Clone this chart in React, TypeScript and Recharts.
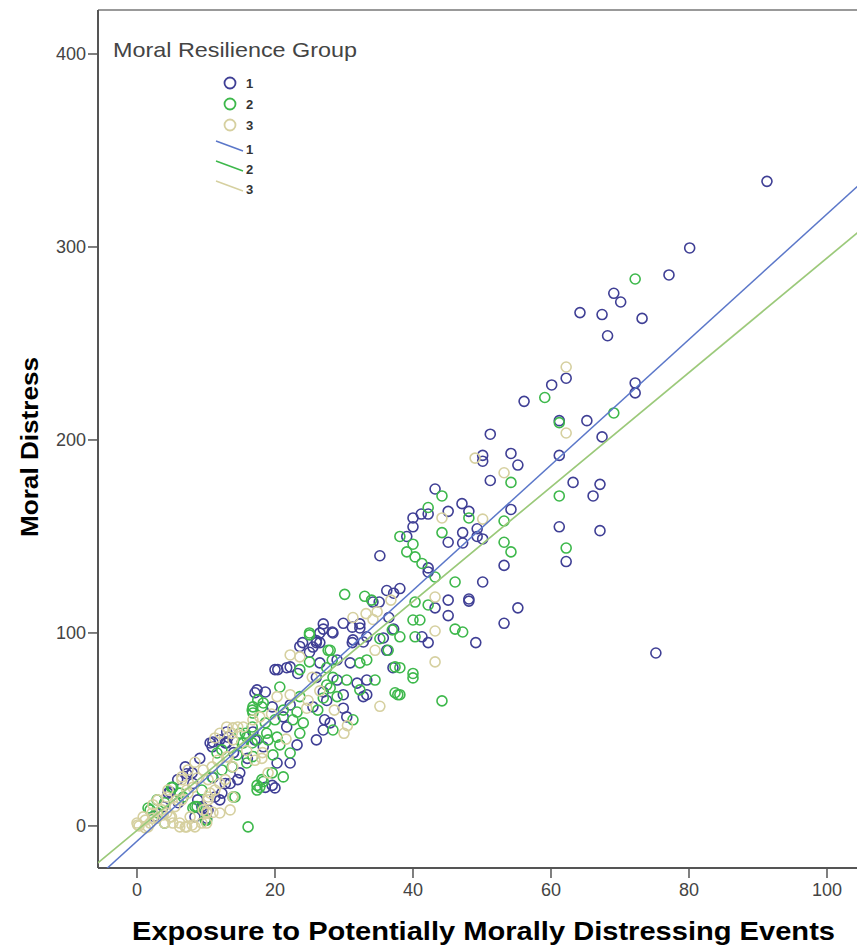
import React from "react";
import { ScatterChart, Scatter, XAxis, YAxis, ReferenceLine } from "recharts";

// Moral Resilience Group 1 (blue), 2 (green), 3 (tan): [exposure, distress]
const group1: [number, number][] = [
  [91.3, 334], [80.1, 299.5], [77.1, 285.5], [69.1, 276], [70.1, 271.5], [67.4, 265], [64.2, 266], [73.2, 263],
  [68.2, 254], [72.2, 229.5], [72.2, 224.4], [67.4, 201.6], [62.2, 232], [60.1, 228.5], [56.1, 220], [61.2, 210],
  [65.2, 210], [54.2, 193], [55.2, 187], [61.2, 192], [63.2, 178], [67.1, 177], [66.1, 171], [54.2, 164],
  [61.2, 155], [67.1, 153], [53.2, 135], [62.2, 137], [55.2, 113], [53.2, 105], [75.2, 89.6],
  [51.2, 203], [50.1, 192], [50.1, 189], [51.2, 179], [43.2, 174.6], [47.1, 167], [48.1, 163], [42.2, 161.6],
  [40, 159.6], [41.2, 161.6], [45.1, 163], [40, 155], [39.1, 150], [45.1, 147], [47.2, 152], [47.2, 146.6],
  [49.3, 154], [49.3, 150], [50.1, 148.7], [35.2, 140], [42.2, 133.7], [42.2, 131.6], [50.1, 126.4], [35.1, 116],
  [36.2, 122], [38.1, 123], [37.2, 120.6], [45.1, 117], [48.1, 117.6], [48.1, 116.5], [43.2, 113], [45.1, 109],
  [49.1, 95], [42.2, 95], [41.3, 98], [37.2, 102], [36.2, 91], [37.1, 82],
  [29.9, 105], [32.3, 104.7], [27, 104.7], [27, 102], [28.4, 100], [26, 95], [31.2, 95], [33.3, 98],
  [34.2, 116], [31.2, 103], [32.3, 102.6], [26.5, 100], [28.3, 100.5], [26.5, 95], [24, 95], [25.5, 92.7],
  [31.3, 96.4], [32.8, 95.3], [35.7, 97.4], [30.9, 84.5], [29, 86], [20, 81], [21.7, 82], [26, 77],
  [29, 75.6], [31.9, 74], [33.3, 75.6], [33.3, 68], [29.9, 68], [25.5, 61.7], [29.9, 61], [32.8, 67],
  [28, 53.4], [30.4, 56.5], [26, 44.6], [26, 96], [25, 90], [23.6, 93], [26.5, 84.5], [20.4, 81],
  [22.2, 82.4], [23.3, 79], [17.4, 70.5], [18.6, 69.4], [27, 69.4], [27.5, 65], [19.6, 61.7], [22.2, 62.7],
  [27.2, 55], [27, 49.7], [21.2, 56.5], [16.8, 48.7], [21.7, 51.3], [12, 44.6], [18.3, 41], [23.2, 42],
  [10.9, 41], [3.8, 10], [8.1, 22], [7.2, 27], [4.8, 17.6], [9.1, 35], [10.6, 43], [13, 48.7],
  [13, 43], [14.9, 27.5], [13.5, 22], [12, 13.5], [9.6, 9.3], [8.8, 13.5], [20, 19.7], [22.2, 32.6],
  [20.3, 32.6], [10.1, 4], [2.5, 5], [6, 12], [11, 25], [16, 35], [14, 38], [36.5, 108],
  [5.9, 24], [7, 30.6], [8, 27.5], [11, 43.5], [13.2, 46], [12.8, 43], [9.4, 10], [10.3, 8.3],
  [11.3, 15], [12.8, 22], [12.3, 17], [14.6, 24], [8.4, 4.7], [4.5, 17], [17.1, 44.6], [18.6, 20],
  [19.6, 21], [17.1, 69],
];

const group2: [number, number][] = [
  [72.2, 283.4], [69.1, 214], [59.1, 222], [61.2, 209], [54.2, 178], [61.2, 171], [53.2, 158], [53.2, 147],
  [54.2, 142], [62.2, 144], [44.2, 171], [42.2, 165], [48.1, 159.6], [38.1, 150], [40, 146], [44.2, 152],
  [39.1, 142], [40.3, 139.4], [41.3, 136], [43.2, 129], [46.1, 126.4], [30.1, 120], [33, 119], [34, 117],
  [40.3, 116], [42.2, 114.5], [46.1, 102], [47.2, 100.5], [40.3, 98], [38.1, 98], [40, 106.7], [41, 106.7],
  [35.2, 97], [38.1, 82], [40, 79], [40, 76.7], [38.1, 68], [44.2, 64.8], [25, 100], [37.4, 69],
  [37.4, 82.4], [37.8, 68], [37, 101.6], [36.4, 91], [28, 91], [25, 99], [32.3, 84.5], [33.3, 86],
  [27.5, 82], [23.6, 81], [30.4, 75.6], [34.5, 75.6], [32.3, 70.5], [28, 71.5], [27, 66.3], [31.3, 55],
  [27.7, 91], [25, 85], [28.3, 86], [28.4, 77], [27.5, 73], [20.7, 72], [23.6, 67], [29, 67],
  [16.8, 61.7], [18.3, 63.7], [21.2, 60], [23.2, 59], [26.2, 60], [28.4, 49.7], [24.1, 53.4], [22.6, 55],
  [20, 55], [18.8, 48], [20.3, 46], [15.4, 43], [17.4, 44.6], [20.7, 42], [23.6, 48], [22.2, 37.8],
  [19.7, 36.8], [3, 6.7], [10.1, 3], [14.2, 15], [16.1, -0.5], [6.7, 15], [5.2, 20], [14.9, 48],
  [15.9, 46], [16.8, 58.5], [16.7, 43], [11.6, 37.8], [14.5, 36.8], [15.9, 32.6], [8.7, 10], [16.8, 36],
  [17.4, 21], [17.4, 18.6], [17.8, 20], [18.3, 23], [21.2, 25.4], [19.6, 27.5], [1.9, 8.3], [4, 1.5],
  [2.9, 13.5], [6.2, 17], [8.1, 9.3], [5, 20],
  [1.6, 9.3], [4, 12], [8.4, 10], [9.4, 18.6], [10.9, 25.4], [12.3, 29], [13.8, 30.6], [12.3, 39.4],
  [15.2, 43], [15.7, 48], [16.7, 51.3], [16.7, 60], [18.1, 61.7], [17.5, 65.3], [18.6, 53.4], [19, 44.6],
  [18.1, 24], [13.9, 15], [9.9, 3],
];

const group3: [number, number][] = [
  [62.2, 237.8], [62.2, 203.6], [53.2, 183], [49, 190.6], [44.2, 159.6], [50.1, 159], [43.2, 118.6], [43.2, 101],
  [43.2, 85], [35.2, 62], [31.3, 108], [33.2, 110], [34.2, 107], [34.8, 111], [34.5, 91], [30, 48],
  [23.6, 87.6], [22.2, 88.6], [25.4, 77], [20.3, 67], [22.2, 68], [24.8, 65], [24.6, 61], [17.8, 56.5],
  [16.8, 55], [15.4, 51.3], [13.9, 44.6], [1.2, -1], [1.9, 1.5], [2.3, 4], [3.8, 5.7], [4.8, 4.7],
  [5.2, 1.5], [6.2, 1.5], [7.2, -0.5], [8, 0.5], [9.4, 1.5], [11, 7], [12, 6.7], [13.5, 8.3],
  [5.8, 13.5], [7.2, 18.6], [6.5, 24], [4.3, 15], [11.3, 45.6], [12, 48], [13.9, 50.8], [13, 35.8],
  [13.9, 30.6], [12, 22], [10.3, 24], [10.3, 15], [13.9, 15], [10.1, 6.7], [10.6, 17], [15.9, 39],
  [0, 1.5], [0.9, 4.7], [1.6, -0.5], [6.2, -0.5], [10.1, 1.5], [10.1, 7.3], [7.7, 4.7], [4.3, 6.7],
  [30.5, 52], [26.5, 70], [28.6, 60], [19.5, 58], [21.6, 45], [18.2, 38], [36.8, 117], [0.3, 0],
  [0.1, 0.5], [1.2, 3], [2.2, 6.7], [2.9, 4], [3.6, 8.3], [4, 1.5], [5, 4.7], [5.5, 10],
  [6.5, 13.5], [7.4, 17], [8.1, 20], [8.7, 24.8], [9.6, 29], [10.9, 30.6], [11.7, 34], [8.4, 33],
  [7.4, 29], [6.5, 25.4], [4.5, 18.6], [3, 13.5], [2.3, 11], [7, -0.5], [8.4, -0.5], [9.6, 8.3],
  [10.3, 13.5], [11.3, 18.6], [12.8, 24], [13.2, 35.8], [13.8, 48], [14.6, 51.3], [13, 51.3], [17.1, 34],
  [18.1, 35], [19, 27.5],
];

// fit lines: [slope, intercept]
const fit1 = [3.25, -7.9];
const fit2 = [2.965, -2.3];
const fit3 = [2.968, -2.4];

const X_DOMAIN: [number, number] = [-5.65, 110];
const Y_DOMAIN: [number, number] = [-21.8, 422.8];
const X_TICKS = [0, 20, 40, 60, 80, 100];
const Y_TICKS = [0, 100, 200, 300, 400];

const BLUE = "#3f3f95";
const GREEN = "#3db84b";
const TAN = "#d6d0a0";

const toPoints = (arr: [number, number][]) => arr.map(([x, y]) => ({ x, y }));
const fitPoints = ([m, b]: number[]) => X_DOMAIN.map((x) => ({ x, y: m * x + b }));

const ring = (color: string) => (props: any) => (
  <circle cx={props.cx} cy={props.cy} r={5} fill="none" stroke={color} strokeWidth={1.6} />
);
const noDot = () => <g />;

const font = "'Liberation Sans', Arial, sans-serif";

export default function App() {
  return (
    <div style={{ position: "relative", width: 857, height: 944, overflow: "hidden", fontFamily: font }}>
      <ScatterChart width={890} height={944} margin={{ top: 2, right: 2, bottom: 54, left: 40 }}>
        <XAxis
          type="number"
          dataKey="x"
          domain={X_DOMAIN}
          ticks={X_TICKS}
          allowDataOverflow
          height={30}
          tickSize={10}
          tickMargin={5}
          axisLine={{ stroke: "#555", strokeWidth: 2 }}
          tickLine={{ stroke: "#555", strokeWidth: 1.5 }}
          tick={{ fontSize: 18, fill: "#444", fontFamily: font }}
        />
        <YAxis
          type="number"
          dataKey="y"
          domain={Y_DOMAIN}
          ticks={Y_TICKS}
          allowDataOverflow
          width={50}
          tickSize={10}
          tickMargin={2}
          axisLine={{ stroke: "#555", strokeWidth: 2 }}
          tickLine={{ stroke: "#555", strokeWidth: 1.5 }}
          tick={{ fontSize: 18, fill: "#444", fontFamily: font }}
        />
        <ReferenceLine y={Y_DOMAIN[1]} stroke="#999" strokeWidth={2} />
        <Scatter data={toPoints(group1)} shape={ring(BLUE)} isAnimationActive={false} />
        <Scatter data={toPoints(group2)} shape={ring(GREEN)} isAnimationActive={false} />
        <Scatter data={toPoints(group3)} shape={ring(TAN)} isAnimationActive={false} />
        <Scatter data={fitPoints(fit3)} line={{ stroke: TAN, strokeWidth: 1.5 }} shape={noDot} isAnimationActive={false} />
        <Scatter data={fitPoints(fit2)} line={{ stroke: "#7cc86a", strokeWidth: 1.5, strokeOpacity: 0.7 }} shape={noDot} isAnimationActive={false} />
        <Scatter data={fitPoints(fit1)} line={{ stroke: "#5b77c9", strokeWidth: 1.5 }} shape={noDot} isAnimationActive={false} />
      </ScatterChart>

      <svg width={857} height={944} style={{ position: "absolute", left: 0, top: 0, pointerEvents: "none" }}>
        <text x={105} y={49} fontSize={21} fill="#444" fontFamily={font} textLength={244} lengthAdjust="spacingAndGlyphs">
          Moral Resilience Group
        </text>
        {[BLUE, GREEN, TAN].map((c, i) => (
          <g key={"c" + i}>
            <circle cx={222} cy={75 + i * 21} r={5.5} fill="none" stroke={c} strokeWidth={1.8} />
            <text x={238} y={80 + i * 21} fontSize={13} fontWeight="bold" fill="#333" fontFamily={font}>{i + 1}</text>
          </g>
        ))}
        {["#5b77c9", GREEN, TAN].map((c, i) => (
          <g key={"l" + i}>
            <line x1={208} y1={133 + i * 20} x2={235} y2={143 + i * 20} stroke={c} strokeWidth={1.5} />
            <text x={238} y={146 + i * 20} fontSize={13} fontWeight="bold" fill="#333" fontFamily={font}>{i + 1}</text>
          </g>
        ))}
        <text
          transform="translate(30,439) rotate(-90)"
          textAnchor="middle"
          fontSize={24}
          fontWeight="bold"
          fill="#000"
          fontFamily={font}
          textLength={180}
          lengthAdjust="spacingAndGlyphs"
        >
          Moral Distress
        </text>
        <text
          x={124}
          y={932}
          fontSize={25}
          fontWeight="bold"
          fill="#000"
          fontFamily={font}
          textLength={703}
          lengthAdjust="spacingAndGlyphs"
        >
          Exposure to Potentially Morally Distressing Events
        </text>
      </svg>
    </div>
  );
}
